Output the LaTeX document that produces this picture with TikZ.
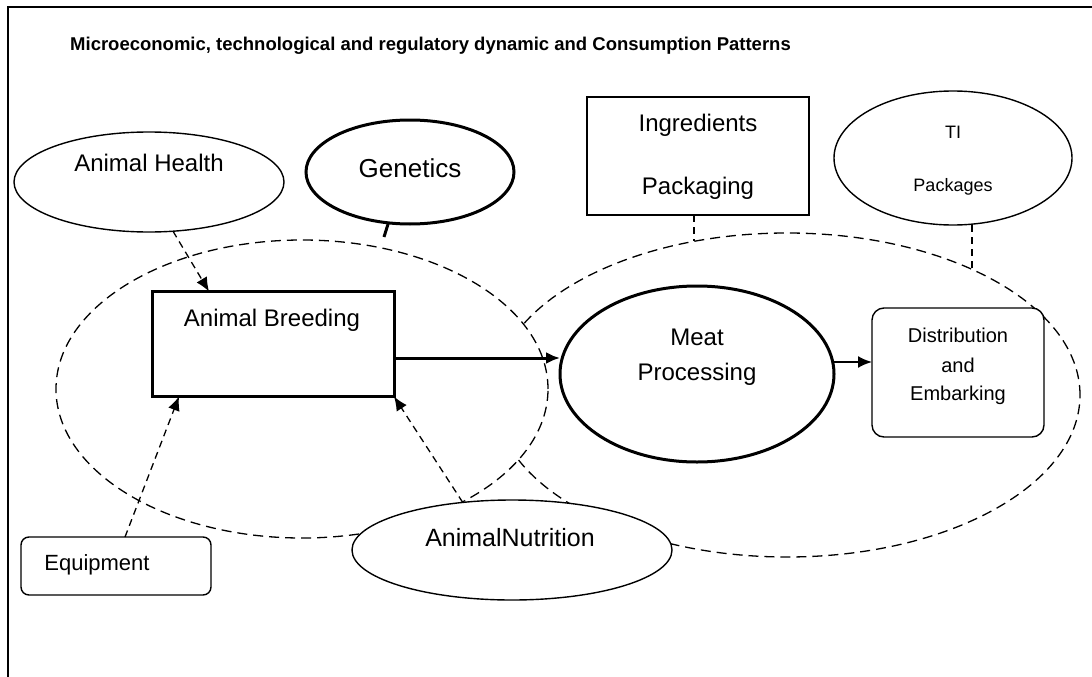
\documentclass[tikz,border=0pt]{standalone}
\usepackage{fontspec}
\setmainfont{Liberation Sans}
\usetikzlibrary{shapes.geometric,arrows.meta,calc}
\begin{document}
\begin{tikzpicture}[x=1pt,y=-1pt,
  base/.style={draw=black,line width=1.4pt,fill=white,inner sep=0pt,outer sep=0pt},
  ell/.style={base,ellipse},
  boxn/.style={base,rectangle},
  rbox/.style={base,rectangle,rounded corners=#1},
  heavy/.style={line width=3pt},
  zone/.style={draw=black,fill=white,ellipse,line width=1.3pt,dash pattern=on 10pt off 6pt,inner sep=0pt},
  lbl/.style={inner sep=0pt,font=\fontsize{24}{28}\selectfont},
  tip/.style={-{Latex[length=14pt,width=12pt]}},
  dasharrow/.style={tip,line width=1.3pt,dash pattern=on 7pt off 5pt},
  dashlink/.style={line width=1.3pt,dash pattern=on 7pt off 5pt},
]
\useasboundingbox (0,0) rectangle (1092,677);
\fill[white] (0,0) rectangle (1092,677);
% frame
\draw[line width=2pt] (8,677) -- (8,7) -- (1092,7);
% title
\node[anchor=west,inner sep=0pt,font=\bfseries\fontsize{18.5}{22}\selectfont] (title) at (70,46)
  {Microeconomic, technological and regulatory dynamic and Consumption Patterns};

% dashed zones (the left one is drawn over the right one)
\node[zone,minimum width=586pt,minimum height=324pt] (rz) at (787,395) {};
\node[zone,minimum width=492pt,minimum height=298pt] (lz) at (302,389) {};

% nodes
\node[ell,minimum width=270pt,minimum height=100pt] (ah) at (149,182) {};
\node[lbl] (ahT) at (149,163) {Animal Health};

\node[ell,heavy,minimum width=208pt,minimum height=104pt] (gen) at (410,172) {};
\node[lbl,font=\fontsize{26}{30}\selectfont] (genT) at (410,168) {Genetics};

\node[boxn,line width=1.8pt,minimum width=222pt,minimum height=118pt] (ing) at (698,156) {};
\node[lbl] (ingT1) at (698,125) {Ingredients};
\node[lbl] (ingT2) at (698,188) {Packaging};

\node[ell,minimum width=238pt,minimum height=134pt] (ti) at (953,158) {};
\node[lbl,font=\fontsize{18}{22}\selectfont] (tiT1) at (953,132) {TI};
\node[lbl,font=\fontsize{18}{22}\selectfont] (tiT2) at (953,187) {Packages};

\node[boxn,heavy,minimum width=242pt,minimum height=105pt] (ab) at (273,344) {};
\node[lbl] (abT) at (272,320) {Animal Breeding};

\node[ell,heavy,minimum width=274pt,minimum height=176pt] (mp) at (697,374) {};
\node[lbl] (mpT1) at (697,337) {Meat};
\node[lbl] (mpT2) at (697,374) {Processing};

\node[rbox=12pt,minimum width=172pt,minimum height=129pt] (dist) at (958,372.5) {};
\node[lbl,font=\fontsize{20}{24}\selectfont] (distT1) at (958,335) {Distribution};
\node[lbl,font=\fontsize{20}{24}\selectfont] (distT2) at (958,365) {and};
\node[lbl,font=\fontsize{20}{24}\selectfont] (distT3) at (958,395) {Embarking};

\node[rbox=8pt,minimum width=190pt,minimum height=58pt] (eq) at (116,566) {};
\node[lbl,font=\fontsize{22}{26}\selectfont] (eqT) at (97,565) {Equipment};

\node[ell,minimum width=320pt,minimum height=100pt] (nut) at (512,550) {};
\node[lbl,font=\fontsize{25}{29}\selectfont] (nutT) at (510,538) {AnimalNutrition};

% free ends
\coordinate (genEnd) at (384,237);
\coordinate (ingEnd) at (694,241);
\coordinate (tiEnd) at (972,269);

% connectors
\draw[heavy] (gen.-113) -- (genEnd);
\draw[dashlink] ([xshift=-4pt]ing.south) -- (ingEnd);
\draw[dashlink] ([xshift=19pt]ti.south) -- (tiEnd);
\draw[dasharrow] (ah.-64) -- ([xshift=-64pt]ab.north);
\draw[dasharrow] ([xshift=9pt]eq.north) -- ([xshift=-94pt]ab.south);
\draw[dasharrow] (nut.136) -- (ab.south east);
\draw[heavy,tip] ([yshift=-14pt]ab.east) -- ([yshift=-14pt]ab.east -| mp.west);
\draw[line width=2pt,tip] ([yshift=12pt]mp.east) -- ([yshift=12pt]mp.east -| dist.west);
\end{tikzpicture}
\end{document}
